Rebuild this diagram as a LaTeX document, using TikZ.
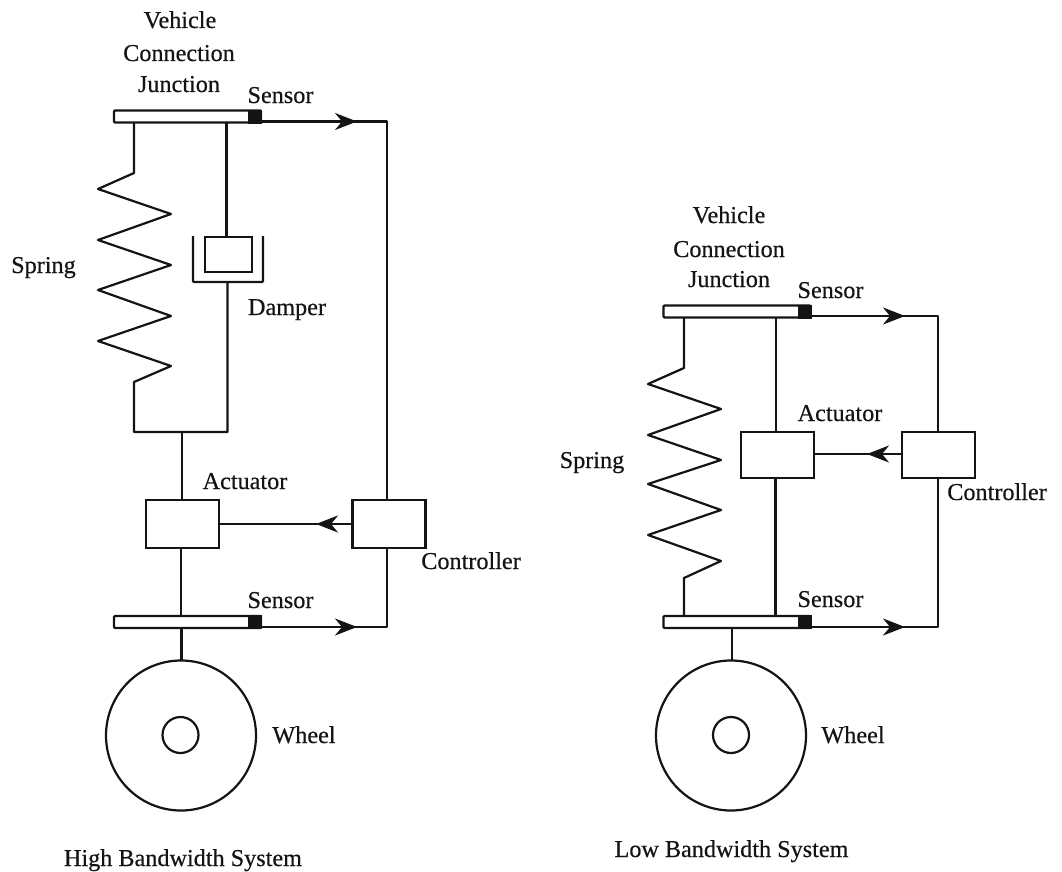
\documentclass[tikz,border=0pt]{standalone}
\usepackage{fontspec}
\setmainfont[FakeBold=0.5]{Liberation Serif}
\usetikzlibrary{arrows.meta}
\definecolor{ink}{gray}{0.08}
\tikzset{
  wire/.style={draw=ink,line width=2.2pt,line join=round},
  wiretip/.style={wire,-{Stealth[length=22pt,width=17pt,inset=7pt]}},
  plate/.style={draw=ink,line width=2.2pt,fill=white,rounded corners=1pt,minimum width=147pt,minimum height=12pt,inner sep=0pt,outer sep=0pt},
  sensorblock/.style={draw=ink,fill=ink,line width=0.5pt,minimum width=13pt,minimum height=13pt,inner sep=0pt,outer sep=0pt},
  unit/.style={draw=ink,line width=2.2pt,fill=white,minimum width=73pt,inner sep=0pt,outer sep=0pt},
  piston/.style={draw=ink,line width=2.2pt,minimum width=47pt,minimum height=35pt,inner sep=0pt,outer sep=0pt},
  wheelrim/.style={circle,draw=ink,line width=2.2pt,minimum size=150pt,inner sep=0pt,outer sep=0pt},
  wheelhub/.style={circle,draw=ink,line width=2.2pt,minimum size=36pt,inner sep=0pt,outer sep=0pt},
  lbl/.style={anchor=base,font=\fontsize{24.2pt}{27pt}\selectfont,text=ink,inner sep=0pt}
}
\begin{document}
\begin{tikzpicture}[x=1pt,y=-1pt]
\useasboundingbox (0,0) rectangle (1062,872);
% ---------- left system
\node[plate] (ltop) at (187.5,116.5) {};
\node[sensorblock] (lts) at (255,116.5) {};
\node[plate] (lbot) at (187.5,622) {};
\node[sensorblock] (lbs) at (255,622) {};
\node[unit,minimum height=48pt] (lact) at (182.5,524) {};
\node[unit,minimum height=48pt] (lctl) at (389,524) {};
\node[piston] (lpis) at (228.5,254.5) {};
\node[wheelrim] (lwheel) at (181,735.5) {};
\node[wheelhub] (lhub) at (180.5,735) {};
\coordinate (lspt) at (134,123);
\coordinate (ljl) at (134,432);
\coordinate (ljr) at (227.5,432);
\coordinate (ljm) at (182,432);
\coordinate (lcup) at (227.5,282);
\coordinate (ldt) at (226.5,123);
\coordinate (ltipa) at (357,121.5);
\coordinate (lcorn) at (387,121.5);
\coordinate (ltipb) at (357,627);
\coordinate (lcornb) at (387,627);
\coordinate (ltipc) at (316,524);
\draw[wire] (lspt) -- (134,173) -- (98,189) -- (171,214) -- (98,240) -- (171,265) -- (98,290) -- (171,316) -- (98,341) -- (171,366) -- (134,382) -- (ljl) -- (ljr) -- (lcup);
\draw[wire] (ldt) -- (226.5,237);
\draw[wire,rounded corners=1pt] (193,236) -- (193,282) -- (263,282) -- (263,236);
\draw[wire] (ljm) -- (lact.north -| ljm);
\draw[wire] (181,548) -- (181,616);
\draw[wire] (181.5,628) -- (181.5,660.5);
\draw[wire] (lts.east |- lcorn) -- (lcorn) -- (lctl.north -| lcorn);
\draw[wiretip] (lts.east |- ltipa) -- (ltipa);
\draw[wire] (lbs.east |- lcornb) -- (lcornb) -- (lctl.south -| lcornb);
\draw[wiretip] (lbs.east |- ltipb) -- (ltipb);
\draw[wire] (lctl.west) -- (lact.east);
\draw[wiretip] (lctl.west) -- (ltipc);
% ---------- right system
\node[plate] (rtop) at (737,311.5) {};
\node[sensorblock] (rts) at (804.5,311.5) {};
\node[plate] (rbot) at (737,622) {};
\node[sensorblock] (rbs) at (804.5,622) {};
\node[unit,minimum height=46pt] (ract) at (777.5,455) {};
\node[unit,minimum height=46pt] (rctl) at (938.5,455) {};
\node[wheelrim] (rwheel) at (731,735.5) {};
\node[wheelhub] (rhub) at (731,735) {};
\coordinate (rspt) at (684,318);
\coordinate (rspb) at (684,616);
\coordinate (rdt) at (776,318);
\coordinate (rdb) at (775.5,616);
\coordinate (rtipa) at (905,316);
\coordinate (rcorn) at (938,316);
\coordinate (rtipb) at (905,627);
\coordinate (rcornb) at (938,627);
\coordinate (rtipc) at (867,454);
\draw[wire] (rspt) -- (684,368) -- (648,384) -- (721,409) -- (648,435) -- (721,460) -- (648,484) -- (721,510) -- (648,535) -- (721,561) -- (684,578) -- (rspb);
\draw[wire] (rdt) -- (ract.north -| rdt);
\draw[wire] (ract.south -| rdb) -- (rdb);
\draw[wire] (732,628) -- (732,660.5);
\draw[wire] (rts.east |- rcorn) -- (rcorn) -- (rctl.north -| rcorn);
\draw[wiretip] (rts.east |- rtipa) -- (rtipa);
\draw[wire] (rbs.east |- rcornb) -- (rcornb) -- (rctl.south -| rcornb);
\draw[wiretip] (rbs.east |- rtipb) -- (rtipb);
\draw[wire] (rctl.west |- rtipc) -- (ract.east |- rtipc);
\draw[wiretip] (rctl.west |- rtipc) -- (rtipc);
% ---------- labels
\node[lbl] (t1) at (180,28) {Vehicle};
\node[lbl] (t2) at (179,61) {Connection};
\node[lbl] (t3) at (179,92) {Junction};
\node[lbl] (t4) at (280.5,103) {Sensor};
\node[lbl] (t5) at (43.5,273) {Spring};
\node[lbl] (t6) at (287,315) {Damper};
\node[lbl] (t7) at (245,489) {Actuator};
\node[lbl] (t8) at (471,569) {Controller};
\node[lbl] (t9) at (280.5,608) {Sensor};
\node[lbl] (t10) at (304,743) {Wheel};
\node[lbl] (t11) at (183,866) {High Bandwidth System};
\node[lbl] (t12) at (729,223) {Vehicle};
\node[lbl] (t13) at (729,257) {Connection};
\node[lbl] (t14) at (729,287) {Junction};
\node[lbl] (t15) at (830.5,298) {Sensor};
\node[lbl] (t16) at (840,421) {Actuator};
\node[lbl] (t17) at (592,468) {Spring};
\node[lbl] (t18) at (997,500) {Controller};
\node[lbl] (t19) at (830.5,607) {Sensor};
\node[lbl] (t20) at (853,743) {Wheel};
\node[lbl] (t21) at (731.5,857) {Low Bandwidth System};
\end{tikzpicture}
\end{document}
